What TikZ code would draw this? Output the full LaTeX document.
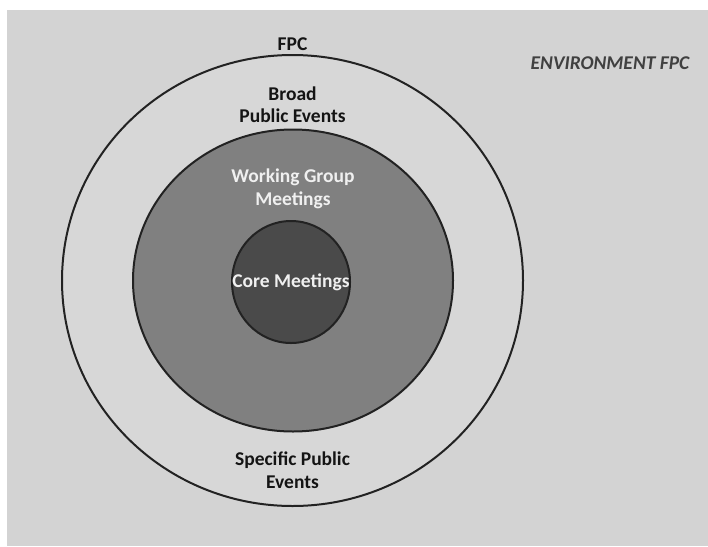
\documentclass[tikz,border=0pt]{standalone}
\usepackage{fontspec}
\setsansfont{Carlito}
\usetikzlibrary{shapes.geometric,positioning}

\definecolor{env_gray}{RGB}{211,211,211}
\definecolor{outer_gray}{RGB}{215,215,215}
\definecolor{mid_gray}{RGB}{128,128,128}
\definecolor{core_gray}{RGB}{74,74,74}
\definecolor{line_gray}{RGB}{34,34,34}

\begin{document}
\begin{tikzpicture}[
    x=1pt, y=-1pt,
    ring_style/.style={ellipse, draw=line_gray, line width=2pt, inner sep=0pt},
    dark_label/.style={text=black!92, align=center, inner sep=0pt,
        font=\sffamily\bfseries\fontsize{19.5}{22.5}\selectfont},
    light_label/.style={dark_label, text=white!94!black}
]

% page and environment area
\useasboundingbox (0,0) rectangle (708,546);
\fill[white] (0,0) rectangle (708,546);
\fill[env_gray] (7,10) rectangle (708,546);

% the three rings
\node[ring_style, fill=outer_gray, minimum width=461pt, minimum height=451pt] (fpc_ring) at (292.5,280.5) {};
\node[ring_style, fill=mid_gray, minimum width=320pt, minimum height=302pt] (wg_ring) at (293,280.5) {};
\node[ring_style, fill=core_gray, minimum width=118pt, minimum height=122pt] (core_ring) at (291,282) {};

% labels
\node[dark_label] (fpc) at ([yshift=10pt]fpc_ring.north) {FPC};
\node[dark_label] (broad) at ([yshift=-50.5pt]fpc_ring.north) {Broad\\Public Events};
\node[light_label] (wg) at ([yshift=-60.5pt]wg_ring.north) {Working Group\\Meetings};
\node[light_label] (core) at (core_ring.center) {Core Meetings};
\node[dark_label] (specific) at ([yshift=37pt]fpc_ring.south) {Specific Public\\Events};
\node[text=black!75, inner sep=0pt, font=\sffamily\bfseries\itshape\fontsize{19.5}{22}\selectfont] (env) at (610,63) {ENVIRONMENT FPC};

\end{tikzpicture}
\end{document}
